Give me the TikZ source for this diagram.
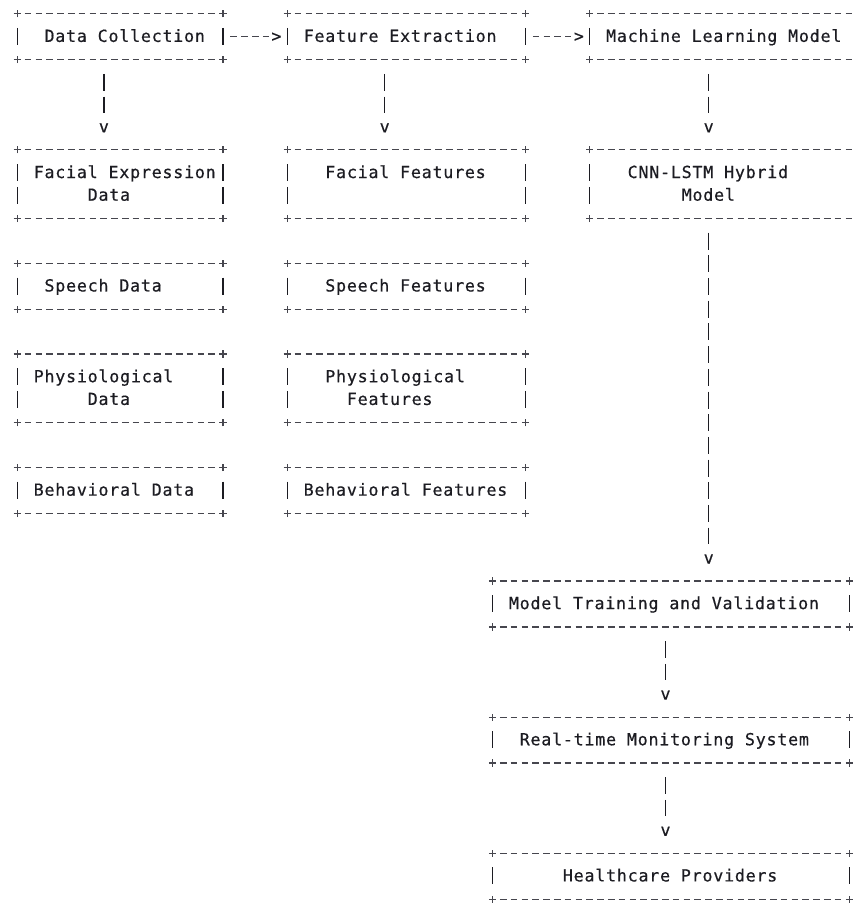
\documentclass[tikz,border=0pt]{standalone}
\usepackage{fontspec}
\newfontfamily\asciifont[LetterSpace=4.59,FakeBold=0.5]{DejaVu Sans Mono}
\usetikzlibrary{calc}
\newdimen\colw \colw=8.1pt
\definecolor{ink}{RGB}{28,28,34}
\definecolor{dashink}{RGB}{70,70,78}
\tikzset{
  abox/.style={rectangle, draw=none, inner sep=0pt, text=ink, align=left,
     font={\asciifont\fontsize{12.5pt}{17.02pt}\selectfont\parindent=0pt},
     text height=10.8pt, text depth=3pt},
  twoline/.style={text depth=20.02pt},
  hy/.style={draw=dashink, line width=0.9pt, dash pattern=on 4.95pt off 3.15pt},
  bar/.style={draw=ink, line width=0.9pt, dash pattern=on 12.75pt off 4.2675pt},
  plus/.style={draw=dashink, line width=0.9pt},
  tipchar/.style={inner sep=0pt, anchor=base, text=ink,
     font={\asciifont\fontsize{12.5pt}{17.02pt}\selectfont}}
}
\newcommand\asciicross[1]{\draw[plus] ([xshift=-2.7pt]#1) -- ([xshift=2.7pt]#1) ([yshift=-2.7pt]#1) -- ([yshift=2.7pt]#1);}
\newcommand\asciibox[7][]{%
  \pgfmathsetmacro\bxL{17.5+10.8*#3}%
  \pgfmathsetmacro\bxR{17.5+10.8*#4}%
  \pgfmathsetmacro\byT{14+22.69*#5}%
  \pgfmathsetmacro\byB{14+22.69*#6}%
  \pgfmathsetmacro\bw{(\bxR-\bxL)*0.75}%
  \pgfmathsetmacro\bh{(\byB-\byT)*0.75}%
  \node[abox, #1, minimum width=\bw pt, text width=\bw pt, minimum height=\bh pt] (#2) at ({(\bxL+\bxR)/2},{(\byT+\byB)/2}) {\spaceskip=\colw\xspaceskip=\colw\relax#7};
  \draw[hy] ([xshift=5.625pt]#2.north west) -- ([xshift=-5.625pt]#2.north east);
  \draw[hy] ([xshift=5.625pt]#2.south west) -- ([xshift=-5.625pt]#2.south east);
  \draw[bar] ([yshift=-10.6425pt]#2.north west) -- ([yshift=10.6425pt]#2.south west);
  \draw[bar] ([yshift=-10.6425pt]#2.north east) -- ([yshift=10.6425pt]#2.south east);
  \asciicross{#2.north west}\asciicross{#2.north east}\asciicross{#2.south west}\asciicross{#2.south east}
}
\newcommand\vconn[3]{%
  \draw[bar] ($(#1.south -| #3)+(0,14.19)$) -- ($(#2.north -| #3)+(0,-36.88)$)
     node[tipchar] at ($(#2.north -| #3)+(0,-17.49)$) {v};
}
\newcommand\hconn[2]{%
  \draw[hy] ($(#1.east)+(7.5,0)$) -- ($(#2.west)+(-18.4,0)$)
     node[tipchar] at ($(#2.west)+(-10.8,5.2)$) {>};
}
\begin{document}
\begin{tikzpicture}[x=0.75pt, y=-0.75pt]
\useasboundingbox (0,0) rectangle (855,906);
\asciibox{dc}{0}{19}{0}{2}{\hspace*{2.5\colw}Data Collection}
\asciibox{fe}{25}{47}{0}{2}{\hspace*{1.5\colw}Feature Extraction}
\asciibox{ml}{53}{78}{0}{2}{\hspace*{1.5\colw}Machine Learning Model}
\asciibox[twoline]{fed}{0}{19}{6}{9}{\hspace*{1.5\colw}Facial Expression\\\hspace*{6.5\colw}Data}
\asciibox[twoline]{ff}{25}{47}{6}{9}{\hspace*{3.5\colw}Facial Features\\\mbox{}}
\asciibox[twoline]{cnn}{53}{78}{6}{9}{\hspace*{3.5\colw}CNN-LSTM Hybrid\\\hspace*{8.5\colw}Model}
\asciibox{sd}{0}{19}{11}{13}{\hspace*{2.5\colw}Speech Data}
\asciibox{sf}{25}{47}{11}{13}{\hspace*{3.5\colw}Speech Features}
\asciibox[twoline]{pd}{0}{19}{15}{18}{\hspace*{1.5\colw}Physiological\\\hspace*{6.5\colw}Data}
\asciibox[twoline]{pf}{25}{47}{15}{18}{\hspace*{3.5\colw}Physiological\\\hspace*{5.5\colw}Features}
\asciibox{bd}{0}{19}{20}{22}{\hspace*{1.5\colw}Behavioral Data}
\asciibox{bf}{25}{47}{20}{22}{\hspace*{1.5\colw}Behavioral Features}
\asciibox{mt}{44}{77}{25}{27}{\hspace*{1.5\colw}Model Training and Validation}
\asciibox{rt}{44}{77}{31}{33}{\hspace*{2.5\colw}Real-time Monitoring System}
\asciibox{hp}{44}{77}{37}{39}{\hspace*{6.5\colw}Healthcare Providers}
\coordinate (k8) at (103.9,0);
\coordinate (k34) at (384.7,0);
\coordinate (k64) at (708.7,0);
\coordinate (k60) at (665.5,0);
\hconn{dc}{fe}
\hconn{fe}{ml}
\vconn{dc}{fed}{k8}
\vconn{fe}{ff}{k34}
\vconn{ml}{cnn}{k64}
\vconn{cnn}{mt}{k64}
\vconn{mt}{rt}{k60}
\vconn{rt}{hp}{k60}
\end{tikzpicture}
\end{document}
